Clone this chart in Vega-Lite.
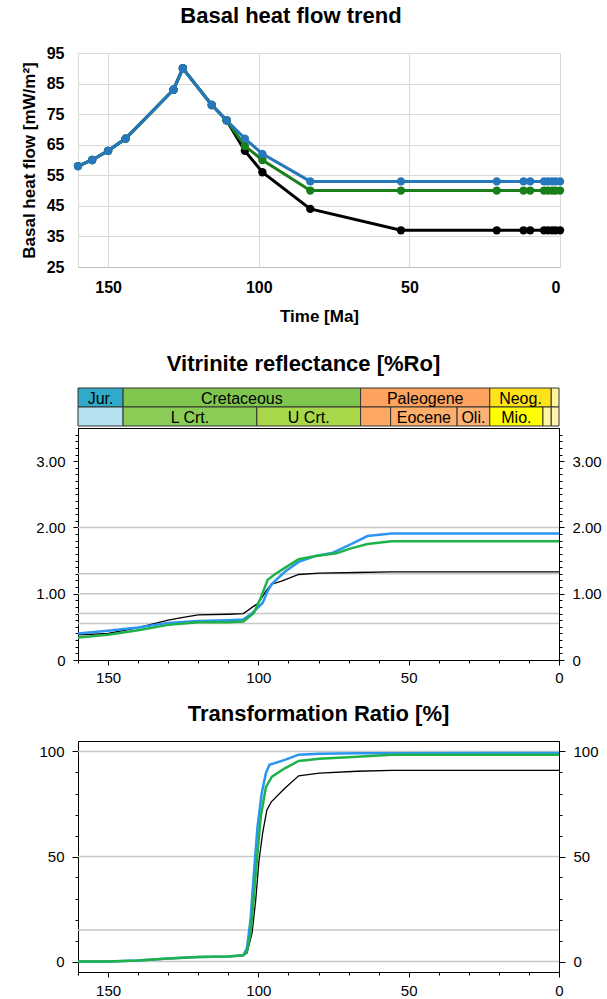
{
  "$schema": "https://vega.github.io/schema/vega-lite/v6.json",
  "padding": {"left": 20, "top": 5, "right": 0, "bottom": 0},
  "background": "white",
  "config": {
    "font": "Liberation Sans",
    "view": {"stroke": null},
    "title": {"font": "Liberation Sans", "fontSize": 22, "fontWeight": "bold", "color": "#000", "anchor": "middle"},
    "axis": {"labelFont": "Liberation Sans", "titleFont": "Liberation Sans", "labelColor": "#000", "titleColor": "#000", "labelOverlap": false}
  },
  "spacing": 28,
  "vconcat": [
    {
      "width": 482,
      "height": 214,
      "title": {"text": "Basal heat flow trend", "dx": -28, "offset": 17},
      "data": {"values": [
        {"s": "low", "t": 160, "q": 58}, {"s": "low", "t": 155.3, "q": 60}, {"s": "low", "t": 150, "q": 63}, {"s": "low", "t": 144.2, "q": 67},
        {"s": "low", "t": 128.3, "q": 83}, {"s": "low", "t": 125.2, "q": 90}, {"s": "low", "t": 115.6, "q": 78}, {"s": "low", "t": 110.7, "q": 73},
        {"s": "low", "t": 104.6, "q": 63}, {"s": "low", "t": 98.8, "q": 56}, {"s": "low", "t": 82.9, "q": 44}, {"s": "low", "t": 52.8, "q": 37},
        {"s": "low", "t": 21, "q": 37}, {"s": "low", "t": 12.1, "q": 37}, {"s": "low", "t": 9.9, "q": 37}, {"s": "low", "t": 5.3, "q": 37},
        {"s": "low", "t": 4, "q": 37}, {"s": "low", "t": 2.6, "q": 37}, {"s": "low", "t": 1.5, "q": 37}, {"s": "low", "t": 0, "q": 37},
        {"s": "mid", "t": 160, "q": 58}, {"s": "mid", "t": 155.3, "q": 60}, {"s": "mid", "t": 150, "q": 63}, {"s": "mid", "t": 144.2, "q": 67},
        {"s": "mid", "t": 128.3, "q": 83}, {"s": "mid", "t": 125.2, "q": 90}, {"s": "mid", "t": 115.6, "q": 78}, {"s": "mid", "t": 110.7, "q": 73},
        {"s": "mid", "t": 104.6, "q": 64.6}, {"s": "mid", "t": 98.8, "q": 60}, {"s": "mid", "t": 82.9, "q": 50}, {"s": "mid", "t": 52.8, "q": 50},
        {"s": "mid", "t": 21, "q": 50}, {"s": "mid", "t": 12.1, "q": 50}, {"s": "mid", "t": 9.9, "q": 50}, {"s": "mid", "t": 5.3, "q": 50},
        {"s": "mid", "t": 4, "q": 50}, {"s": "mid", "t": 2.6, "q": 50}, {"s": "mid", "t": 1.5, "q": 50}, {"s": "mid", "t": 0, "q": 50},
        {"s": "high", "t": 160, "q": 58}, {"s": "high", "t": 155.3, "q": 60}, {"s": "high", "t": 150, "q": 63}, {"s": "high", "t": 144.2, "q": 67},
        {"s": "high", "t": 128.3, "q": 83}, {"s": "high", "t": 125.2, "q": 90}, {"s": "high", "t": 115.6, "q": 78}, {"s": "high", "t": 110.7, "q": 73},
        {"s": "high", "t": 104.6, "q": 67}, {"s": "high", "t": 98.8, "q": 62}, {"s": "high", "t": 82.9, "q": 53}, {"s": "high", "t": 52.8, "q": 53},
        {"s": "high", "t": 21, "q": 53}, {"s": "high", "t": 12.1, "q": 53}, {"s": "high", "t": 9.9, "q": 53}, {"s": "high", "t": 5.3, "q": 53},
        {"s": "high", "t": 4, "q": 53}, {"s": "high", "t": 2.6, "q": 53}, {"s": "high", "t": 1.5, "q": 53}, {"s": "high", "t": 0, "q": 53}
      ]},
      "encoding": {
        "x": {"field": "t", "type": "quantitative", "scale": {"domain": [160, 0], "nice": false, "zero": false},
              "axis": {"values": [150, 100, 50, 0], "title": "Time [Ma]", "grid": true, "gridColor": "#d9d9d9", "ticks": false,
                       "domainColor": "#bfbfbf", "labelFontWeight": "bold", "labelFontSize": 16, "labelPadding": 12, "labelOverlap": false,
                       "titleFontSize": 17, "titleFontWeight": "bold", "titlePadding": 13}},
        "y": {"field": "q", "type": "quantitative", "scale": {"domain": [25, 95], "nice": false, "zero": false},
              "axis": {"values": [25, 35, 45, 55, 65, 75, 85, 95], "title": "Basal heat flow [mW/m²]", "grid": true, "gridColor": "#d9d9d9",
                       "ticks": false, "domainColor": "#d9d9d9", "labelFontWeight": "bold", "labelFontSize": 16, "labelPadding": 14, "labelOverlap": false,
                       "titleFontSize": 17, "titleFontWeight": "bold", "titlePadding": 8}}
      },
      "layer": [
        {"transform": [{"filter": "datum.s == 'low'"}], "mark": {"type": "line", "color": "#000000", "strokeWidth": 3, "point": {"filled": true, "size": 70, "color": "#000000"}}},
        {"transform": [{"filter": "datum.s == 'mid'"}], "mark": {"type": "line", "color": "#1a7f1a", "strokeWidth": 3, "point": {"filled": true, "size": 70, "color": "#1a7f1a"}}},
        {"transform": [{"filter": "datum.s == 'high'"}], "mark": {"type": "line", "color": "#2677bb", "strokeWidth": 3, "point": {"filled": true, "size": 70, "color": "#2677bb"}}}
      ]
    },
    {
      "spacing": 16,
      "vconcat": [
        {
          "spacing": 0,
          "vconcat": [
            {
              "width": 481,
              "height": 38,
              "title": {"text": "Vitrinite reflectance [%Ro]", "dx": -15, "offset": 12},
              "data": {"values": [
                {"row": "1", "unit": "Jurassic", "label": "Jur.", "start": 160, "end": 145},
                {"row": "1", "unit": "Cretaceous", "label": "Cretaceous", "start": 145, "end": 66},
                {"row": "1", "unit": "Paleogene", "label": "Paleogene", "start": 66, "end": 23.03},
                {"row": "1", "unit": "Neogene", "label": "Neog.", "start": 23.03, "end": 2.58},
                {"row": "1", "unit": "Quaternary", "label": "", "start": 2.58, "end": 0},
                {"row": "2", "unit": "Upper Jurassic", "label": "", "start": 160, "end": 145},
                {"row": "2", "unit": "Lower Cretaceous", "label": "L Crt.", "start": 145, "end": 100.5},
                {"row": "2", "unit": "Upper Cretaceous", "label": "U Crt.", "start": 100.5, "end": 66},
                {"row": "2", "unit": "Paleocene", "label": "", "start": 66, "end": 56},
                {"row": "2", "unit": "Eocene", "label": "Eocene", "start": 56, "end": 33.9},
                {"row": "2", "unit": "Oligocene", "label": "Oli.", "start": 33.9, "end": 23.03},
                {"row": "2", "unit": "Miocene", "label": "Mio.", "start": 23.03, "end": 5.33},
                {"row": "2", "unit": "Pliocene", "label": "", "start": 5.33, "end": 2.58},
                {"row": "2", "unit": "Pleistocene", "label": "", "start": 2.58, "end": 0}
              ]},
              "layer": [
                {
                  "mark": {"type": "rect", "stroke": "#333333", "strokeWidth": 1},
                  "encoding": {
                    "x": {"field": "start", "type": "quantitative", "scale": {"domain": [160, 0], "nice": false, "zero": false}, "axis": null},
                    "x2": {"field": "end"},
                    "y": {"field": "row", "type": "ordinal", "axis": null, "scale": {"paddingInner": 0, "paddingOuter": 0}},
                    "fill": {"field": "unit", "type": "nominal", "legend": null, "scale": {
                      "domain": ["Jurassic", "Cretaceous", "Paleogene", "Neogene", "Quaternary", "Upper Jurassic", "Lower Cretaceous", "Upper Cretaceous", "Paleocene", "Eocene", "Oligocene", "Miocene", "Pliocene", "Pleistocene"],
                      "range": ["#31a9c9", "#7fc64e", "#fba35f", "#ffe31a", "#fff3a0", "#b4e1ee", "#8ccd57", "#a8d84a", "#fca862", "#fcae6a", "#fcb272", "#ffff00", "#fff6a0", "#fff2ae"]}}
                  }
                },
                {
                  "transform": [{"calculate": "(datum.start + datum.end) / 2", "as": "mid"}],
                  "mark": {"type": "text", "fontSize": 16, "color": "#000", "align": "center", "baseline": "middle", "dy": 1},
                  "encoding": {
                    "x": {"field": "mid", "type": "quantitative"},
                    "y": {"field": "row", "type": "ordinal"},
                    "text": {"field": "label"}
                  }
                }
              ]
            },
            {
              "width": 481,
              "height": 232,
              "view": {"stroke": "#000", "strokeWidth": 1},
              "resolve": {"axis": {"y": "independent"}},
              "layer": [
                {
                  "data": {"values": [{"g": 0.55}, {"g": 0.7}, {"g": 1.0}, {"g": 1.3}, {"g": 2.0}]},
                  "mark": {"type": "rule", "color": "#c8c8c8", "strokeWidth": 1.5},
                  "encoding": {
                    "y": {"field": "g", "type": "quantitative", "scale": {"domain": [0, 3.5], "nice": false, "zero": false},
                          "axis": {"orient": "left", "title": null, "grid": false, "domainColor": "#000", "tickColor": "#000",
                                   "values": [0, 0.1, 0.2, 0.3, 0.4, 0.5, 0.6, 0.7, 0.8, 0.9, 1, 1.1, 1.2, 1.3, 1.4, 1.5, 1.6, 1.7, 1.8, 1.9, 2, 2.1, 2.2, 2.3, 2.4, 2.5, 2.6, 2.7, 2.8, 2.9, 3, 3.1, 3.2, 3.3, 3.4],
                                   "tickSize": {"condition": {"test": "abs(datum.value - round(datum.value)) < 0.001", "value": 5}, "value": 3},
                                   "labelExpr": "datum.value == 0 ? '0' : (abs(datum.value - round(datum.value)) < 0.001 ? format(datum.value, '.2f') : '')",
                                   "labelFontSize": 15, "labelPadding": 8, "labelFlush": false, "labelOverlap": false}}
                  }
                },
                {
                  "data": {"name": "vr"},
                  "transform": [{"filter": "datum.s == 'low'"}],
                  "mark": {"type": "line", "color": "#000000", "strokeWidth": 1.3},
                  "encoding": {
                    "x": {"field": "t", "type": "quantitative", "scale": {"domain": [160, 0], "nice": false, "zero": false},
                          "axis": {"title": null, "grid": false, "domainColor": "#000", "tickColor": "#000",
                                   "values": [160, 150, 140, 130, 120, 110, 100, 90, 80, 70, 60, 50, 40, 30, 20, 10, 0],
                                   "tickSize": {"condition": {"test": "datum.value % 50 == 0", "value": 5}, "value": 3},
                                   "labelExpr": "datum.value % 50 == 0 ? datum.label : ''",
                                   "labelFontSize": 15, "labelPadding": 5, "labelFlush": false, "labelOverlap": false}},
                    "y": {"field": "v", "type": "quantitative", "scale": {"domain": [0, 3.5], "nice": false, "zero": false},
                          "axis": {"orient": "right", "title": null, "grid": false, "domainColor": "#000", "tickColor": "#000",
                                   "values": [0, 0.1, 0.2, 0.3, 0.4, 0.5, 0.6, 0.7, 0.8, 0.9, 1, 1.1, 1.2, 1.3, 1.4, 1.5, 1.6, 1.7, 1.8, 1.9, 2, 2.1, 2.2, 2.3, 2.4, 2.5, 2.6, 2.7, 2.8, 2.9, 3, 3.1, 3.2, 3.3, 3.4],
                                   "tickSize": {"condition": {"test": "abs(datum.value - round(datum.value)) < 0.001", "value": 5}, "value": 3},
                                   "labelExpr": "datum.value == 0 ? '0' : (abs(datum.value - round(datum.value)) < 0.001 ? format(datum.value, '.2f') : '')",
                                   "labelFontSize": 15, "labelPadding": 8, "labelFlush": false, "labelOverlap": false}}
                  }
                },
                {
                  "data": {"name": "vr"},
                  "transform": [{"filter": "datum.s == 'high'"}],
                  "mark": {"type": "line", "color": "#2b95f0", "strokeWidth": 2.5},
                  "encoding": {
                    "x": {"field": "t", "type": "quantitative",
                          "axis": {"title": null, "grid": false, "domainColor": "#000", "tickColor": "#000",
                                   "values": [160, 150, 140, 130, 120, 110, 100, 90, 80, 70, 60, 50, 40, 30, 20, 10, 0],
                                   "tickSize": {"condition": {"test": "datum.value % 50 == 0", "value": 5}, "value": 3},
                                   "labelExpr": "datum.value % 50 == 0 ? datum.label : ''",
                                   "labelFontSize": 15, "labelPadding": 5, "labelFlush": false, "labelOverlap": false}},
                    "y": {"field": "v", "type": "quantitative", "axis": null}
                  }
                },
                {
                  "data": {"name": "vr"},
                  "transform": [{"filter": "datum.s == 'mid'"}],
                  "mark": {"type": "line", "color": "#20b24a", "strokeWidth": 2.5},
                  "encoding": {
                    "x": {"field": "t", "type": "quantitative",
                          "axis": {"title": null, "grid": false, "domainColor": "#000", "tickColor": "#000",
                                   "values": [160, 150, 140, 130, 120, 110, 100, 90, 80, 70, 60, 50, 40, 30, 20, 10, 0],
                                   "tickSize": {"condition": {"test": "datum.value % 50 == 0", "value": 5}, "value": 3},
                                   "labelExpr": "datum.value % 50 == 0 ? datum.label : ''",
                                   "labelFontSize": 15, "labelPadding": 5, "labelFlush": false, "labelOverlap": false}},
                    "y": {"field": "v", "type": "quantitative", "axis": null}
                  }
                }
              ]
            }
          ]
        },
        {
          "width": 481,
          "height": 231,
          "title": {"text": "Transformation Ratio [%]", "offset": 15},
          "view": {"stroke": "#000", "strokeWidth": 1},
          "resolve": {"axis": {"y": "independent"}},
          "layer": [
            {
              "data": {"values": [{"g": 0}, {"g": 15}, {"g": 50}, {"g": 100}]},
              "mark": {"type": "rule", "color": "#c8c8c8", "strokeWidth": 1.5},
              "encoding": {
                "y": {"field": "g", "type": "quantitative", "scale": {"domain": [-5, 105], "nice": false, "zero": false},
                      "axis": {"orient": "left", "title": null, "grid": false, "domainColor": "#000", "tickColor": "#000",
                               "values": [0, 10, 20, 30, 40, 50, 60, 70, 80, 90, 100],
                               "tickSize": {"condition": {"test": "datum.value % 50 == 0", "value": 6}, "value": 3},
                               "labelExpr": "datum.value % 50 == 0 ? datum.label : ''",
                               "labelFontSize": 15, "labelPadding": 8, "labelFlush": false, "labelOverlap": false}}
              }
            },
            {
              "data": {"name": "tr"},
              "transform": [{"filter": "datum.s == 'low'"}],
              "mark": {"type": "line", "color": "#000000", "strokeWidth": 1.3},
              "encoding": {
                "x": {"field": "t", "type": "quantitative", "scale": {"domain": [160, 0], "nice": false, "zero": false},
                      "axis": {"title": null, "grid": false, "domainColor": "#000", "tickColor": "#000",
                               "values": [160, 150, 140, 130, 120, 110, 100, 90, 80, 70, 60, 50, 40, 30, 20, 10, 0],
                               "tickSize": {"condition": {"test": "datum.value % 50 == 0", "value": 5}, "value": 3},
                               "labelExpr": "datum.value % 50 == 0 ? datum.label : ''",
                               "labelFontSize": 15, "labelPadding": 6, "labelFlush": false, "labelOverlap": false}},
                "y": {"field": "p", "type": "quantitative", "scale": {"domain": [-5, 105], "nice": false, "zero": false},
                      "axis": {"orient": "right", "title": null, "grid": false, "domainColor": "#000", "tickColor": "#000",
                               "values": [0, 10, 20, 30, 40, 50, 60, 70, 80, 90, 100],
                               "tickSize": {"condition": {"test": "datum.value % 50 == 0", "value": 6}, "value": 3},
                               "labelExpr": "datum.value % 50 == 0 ? datum.label : ''",
                               "labelFontSize": 15, "labelPadding": 8, "labelFlush": false, "labelOverlap": false}}
              }
            },
            {
              "data": {"name": "tr"},
              "transform": [{"filter": "datum.s == 'high'"}],
              "mark": {"type": "line", "color": "#2b95f0", "strokeWidth": 2.5},
              "encoding": {
                "x": {"field": "t", "type": "quantitative",
                      "axis": {"title": null, "grid": false, "domainColor": "#000", "tickColor": "#000",
                               "values": [160, 150, 140, 130, 120, 110, 100, 90, 80, 70, 60, 50, 40, 30, 20, 10, 0],
                               "tickSize": {"condition": {"test": "datum.value % 50 == 0", "value": 5}, "value": 3},
                               "labelExpr": "datum.value % 50 == 0 ? datum.label : ''",
                               "labelFontSize": 15, "labelPadding": 6, "labelFlush": false, "labelOverlap": false}},
                "y": {"field": "p", "type": "quantitative", "axis": null}
              }
            },
            {
              "data": {"name": "tr"},
              "transform": [{"filter": "datum.s == 'mid'"}],
              "mark": {"type": "line", "color": "#20b24a", "strokeWidth": 2.5},
              "encoding": {
                "x": {"field": "t", "type": "quantitative",
                      "axis": {"title": null, "grid": false, "domainColor": "#000", "tickColor": "#000",
                               "values": [160, 150, 140, 130, 120, 110, 100, 90, 80, 70, 60, 50, 40, 30, 20, 10, 0],
                               "tickSize": {"condition": {"test": "datum.value % 50 == 0", "value": 5}, "value": 3},
                               "labelExpr": "datum.value % 50 == 0 ? datum.label : ''",
                               "labelFontSize": 15, "labelPadding": 6, "labelFlush": false, "labelOverlap": false}},
                "y": {"field": "p", "type": "quantitative", "axis": null}
              }
            }
          ]
        }
      ]
    }
  ],
  "datasets": {
    "vr": [
      {"s": "low", "t": 160, "v": 0.38}, {"s": "low", "t": 150, "v": 0.40}, {"s": "low", "t": 140, "v": 0.49}, {"s": "low", "t": 130, "v": 0.60},
      {"s": "low", "t": 125.5, "v": 0.64}, {"s": "low", "t": 120, "v": 0.68}, {"s": "low", "t": 110, "v": 0.69}, {"s": "low", "t": 105, "v": 0.70},
      {"s": "low", "t": 100, "v": 0.86}, {"s": "low", "t": 97.3, "v": 1.05}, {"s": "low", "t": 95.8, "v": 1.14}, {"s": "low", "t": 92.3, "v": 1.19},
      {"s": "low", "t": 86.6, "v": 1.29}, {"s": "low", "t": 79.7, "v": 1.31}, {"s": "low", "t": 67.2, "v": 1.32}, {"s": "low", "t": 55.7, "v": 1.33},
      {"s": "low", "t": 0, "v": 1.33},
      {"s": "high", "t": 160, "v": 0.40}, {"s": "high", "t": 150, "v": 0.44}, {"s": "high", "t": 140, "v": 0.49}, {"s": "high", "t": 130, "v": 0.56},
      {"s": "high", "t": 120, "v": 0.59}, {"s": "high", "t": 110, "v": 0.60}, {"s": "high", "t": 105, "v": 0.61}, {"s": "high", "t": 102, "v": 0.71},
      {"s": "high", "t": 98.6, "v": 0.86}, {"s": "high", "t": 96.9, "v": 1.04}, {"s": "high", "t": 95.5, "v": 1.15}, {"s": "high", "t": 91.2, "v": 1.33},
      {"s": "high", "t": 86.6, "v": 1.48}, {"s": "high", "t": 80.9, "v": 1.57}, {"s": "high", "t": 75.2, "v": 1.62}, {"s": "high", "t": 69.5, "v": 1.74},
      {"s": "high", "t": 63.7, "v": 1.87}, {"s": "high", "t": 55.7, "v": 1.91}, {"s": "high", "t": 0, "v": 1.91},
      {"s": "mid", "t": 160, "v": 0.34}, {"s": "mid", "t": 150, "v": 0.38}, {"s": "mid", "t": 140, "v": 0.45}, {"s": "mid", "t": 130, "v": 0.53},
      {"s": "mid", "t": 120, "v": 0.57}, {"s": "mid", "t": 110, "v": 0.57}, {"s": "mid", "t": 105, "v": 0.58}, {"s": "mid", "t": 101.5, "v": 0.71},
      {"s": "mid", "t": 99.2, "v": 0.94}, {"s": "mid", "t": 96.9, "v": 1.21}, {"s": "mid", "t": 94.6, "v": 1.29}, {"s": "mid", "t": 91.2, "v": 1.39},
      {"s": "mid", "t": 86.6, "v": 1.52}, {"s": "mid", "t": 80.9, "v": 1.57}, {"s": "mid", "t": 74, "v": 1.61}, {"s": "mid", "t": 69.5, "v": 1.68},
      {"s": "mid", "t": 63.7, "v": 1.75}, {"s": "mid", "t": 55.7, "v": 1.79}, {"s": "mid", "t": 0, "v": 1.79}
    ],
    "tr": [
      {"s": "low", "t": 160, "p": 0}, {"s": "low", "t": 150, "p": 0}, {"s": "low", "t": 140, "p": 0.5}, {"s": "low", "t": 130, "p": 1.4},
      {"s": "low", "t": 120, "p": 2.2}, {"s": "low", "t": 110, "p": 2.4}, {"s": "low", "t": 105, "p": 3}, {"s": "low", "t": 103.8, "p": 4},
      {"s": "low", "t": 102.1, "p": 13.5}, {"s": "low", "t": 100.9, "p": 29}, {"s": "low", "t": 99.8, "p": 48}, {"s": "low", "t": 98.6, "p": 61},
      {"s": "low", "t": 97.2, "p": 72}, {"s": "low", "t": 95.7, "p": 76}, {"s": "low", "t": 91.2, "p": 82.5}, {"s": "low", "t": 86.6, "p": 88.4},
      {"s": "low", "t": 79.7, "p": 89.7}, {"s": "low", "t": 67.1, "p": 90.6}, {"s": "low", "t": 55.6, "p": 91}, {"s": "low", "t": 0, "p": 91},
      {"s": "high", "t": 160, "p": 0}, {"s": "high", "t": 150, "p": 0}, {"s": "high", "t": 140, "p": 0.5}, {"s": "high", "t": 130, "p": 1.4},
      {"s": "high", "t": 120, "p": 2.2}, {"s": "high", "t": 110, "p": 2.4}, {"s": "high", "t": 105, "p": 3}, {"s": "high", "t": 103.8, "p": 6.3},
      {"s": "high", "t": 102.6, "p": 20}, {"s": "high", "t": 101.5, "p": 42}, {"s": "high", "t": 100.3, "p": 64}, {"s": "high", "t": 98.9, "p": 80},
      {"s": "high", "t": 97.5, "p": 89.7}, {"s": "high", "t": 96.3, "p": 93.7}, {"s": "high", "t": 91.2, "p": 96}, {"s": "high", "t": 86.6, "p": 98.5},
      {"s": "high", "t": 79.7, "p": 98.9}, {"s": "high", "t": 67.1, "p": 99.2}, {"s": "high", "t": 0, "p": 99.3},
      {"s": "mid", "t": 160, "p": 0}, {"s": "mid", "t": 150, "p": 0}, {"s": "mid", "t": 140, "p": 0.5}, {"s": "mid", "t": 130, "p": 1.4},
      {"s": "mid", "t": 120, "p": 2.2}, {"s": "mid", "t": 110, "p": 2.4}, {"s": "mid", "t": 105, "p": 3}, {"s": "mid", "t": 103.8, "p": 4.8},
      {"s": "mid", "t": 102.6, "p": 13.5}, {"s": "mid", "t": 101.5, "p": 31}, {"s": "mid", "t": 100.3, "p": 51.6}, {"s": "mid", "t": 99.2, "p": 69},
      {"s": "mid", "t": 97.5, "p": 83}, {"s": "mid", "t": 95.5, "p": 88}, {"s": "mid", "t": 91.2, "p": 92}, {"s": "mid", "t": 86.6, "p": 95.5},
      {"s": "mid", "t": 79.7, "p": 96.5}, {"s": "mid", "t": 67.1, "p": 97.5}, {"s": "mid", "t": 55.6, "p": 98.4}, {"s": "mid", "t": 0, "p": 98.4}
    ]
  }
}
